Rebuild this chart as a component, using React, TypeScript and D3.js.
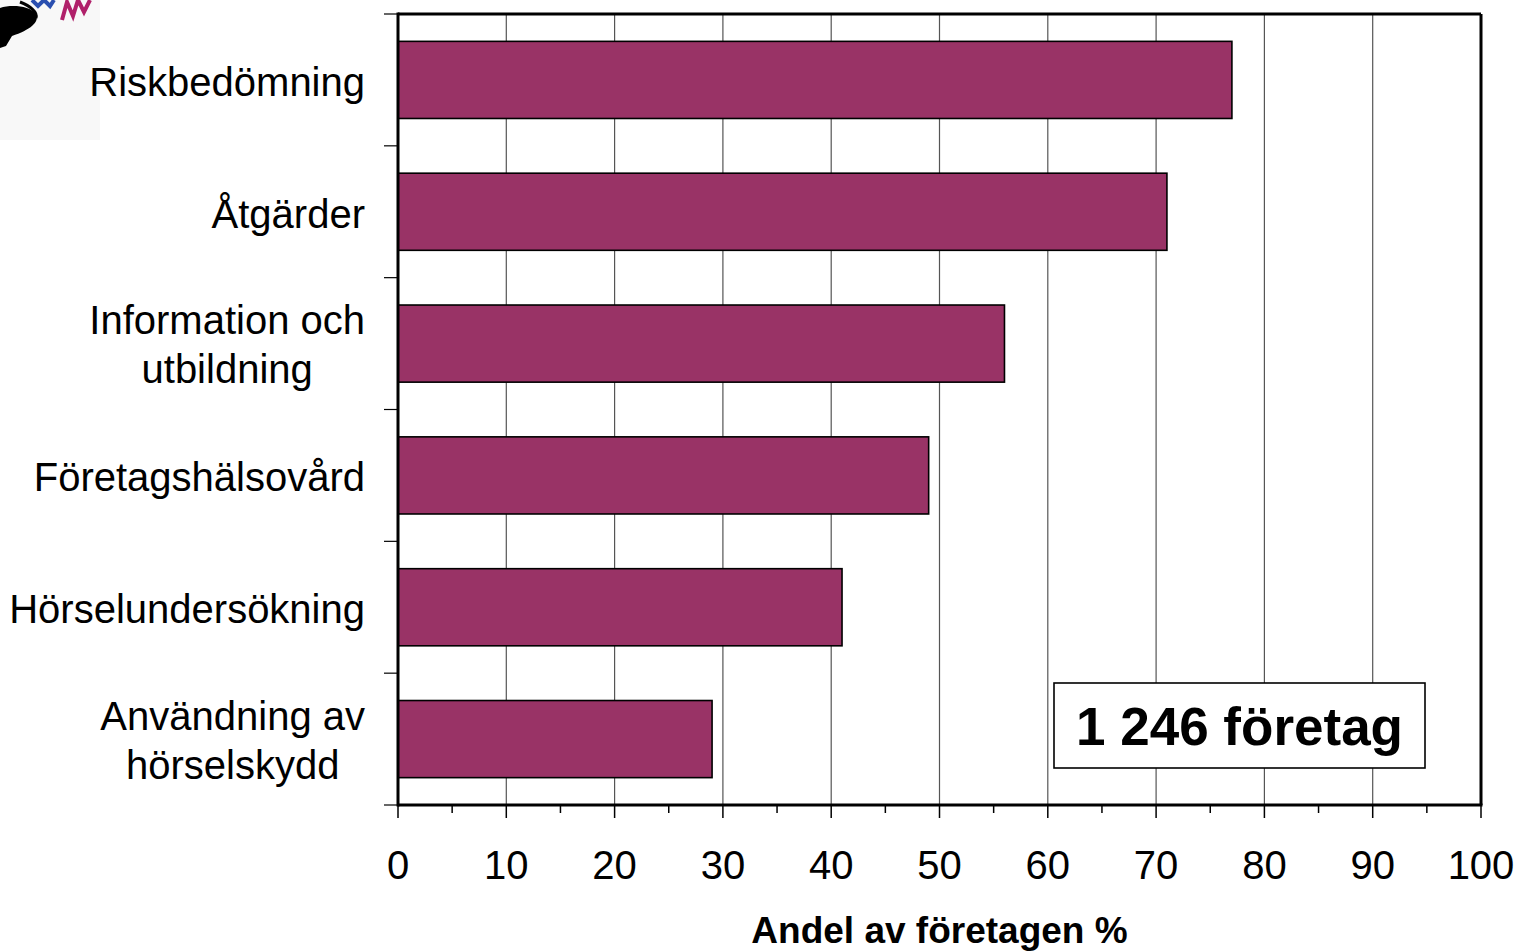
import * as React from 'react';
import * as d3 from 'd3';

const dimensions = { width: 1519, height: 952 };
const margin = { top: 14, left: 398, right: 38, bottom: 147 };

// categories top to bottom, "|" marks a line break
const categories = [
  'Riskbedömning',
  'Åtgärder',
  'Information och|utbildning',
  'Företagshälsovård',
  'Hörselundersökning',
  'Användning av|hörselskydd',
];
const values = [77, 71, 56, 49, 41, 29];
const xTicks = [0, 10, 20, 30, 40, 50, 60, 70, 80, 90, 100];
const axisTitle = 'Andel av företagen %';
const note = '1 246 företag';

const font = '"Liberation Sans", Arial, sans-serif';
const labelSize = 40;

let ctx: CanvasRenderingContext2D | null = null;
const measure = (s: string) => {
  if (!ctx) ctx = document.createElement('canvas').getContext('2d');
  if (!ctx) return s.length * 20;
  ctx.font = `${labelSize}px ${font}`;
  return ctx.measureText(s).width;
};

const App: React.FC = () => {
  React.useEffect(() => {
    document.body.style.margin = '0';
  }, []);

  const x0 = margin.left;
  const x1 = dimensions.width - margin.right;
  const y0 = margin.top;
  const y1 = dimensions.height - margin.bottom;

  const x = d3.scaleLinear([0, 100], [x0, x1]);
  const y = d3
    .scaleBand(categories, [y0, y1])
    .paddingInner(0.415)
    .paddingOuter(0.2075);
  const step = y.step();
  const minor = d3.range(5, 100, 10);
  const bounds = d3.range(categories.length + 1).map((i) => y0 + i * step);
  const labelRight = 365;

  return (
    <svg
      width={dimensions.width}
      height={dimensions.height}
      viewBox={`0 0 ${dimensions.width} ${dimensions.height}`}
      style={{ display: 'block', background: '#fff' }}
      fontFamily={font}
    >
      {/* logo fragment */}
      <rect x={0} y={0} width={100} height={140} fill="#f8f8f8" />
      <g>
        <path d="M0,8 C12,4 30,6 36,14 C40,22 30,30 12,36 L6,46 L0,48 Z" fill="#000" />
        <path d="M20,2 C30,6 38,12 36,18" fill="none" stroke="#000" strokeWidth={3} />
        <path d="M32,0 L38,6 L44,0 L50,6 L54,0" fill="none" stroke="#2a4fb0" strokeWidth={4} />
        <path d="M62,20 L67,2 L73,16 L78,0 L84,12 L90,0" fill="none" stroke="#b0206a" strokeWidth={4} />
      </g>

      {/* grid lines */}
      {xTicks.slice(1, -1).map((t) => (
        <line key={t} x1={x(t)} x2={x(t)} y1={y0} y2={y1} stroke="#555" strokeWidth={1.2} />
      ))}

      {/* bars */}
      {categories.map((c, i) => (
        <rect
          key={c}
          x={x(0)}
          y={y(c)}
          width={x(values[i]) - x(0)}
          height={y.bandwidth()}
          fill="#993366"
          stroke="#000"
          strokeWidth={1.6}
        />
      ))}

      {/* frame */}
      <line x1={x0} x2={x1} y1={y0} y2={y0} stroke="#000" strokeWidth={3} />
      <line x1={x1} x2={x1} y1={y0} y2={y1} stroke="#000" strokeWidth={3} />
      <line x1={x0} x2={x0} y1={y0 - 1.5} y2={y1 + 1.5} stroke="#000" strokeWidth={3} />
      <line x1={x0} x2={x1 + 1.5} y1={y1} y2={y1} stroke="#000" strokeWidth={3} />

      {/* category ticks */}
      {bounds.map((b, i) => (
        <line key={i} x1={x0 - 14} x2={x0} y1={b} y2={b} stroke="#000" strokeWidth={1.2} />
      ))}

      {/* x ticks */}
      {xTicks.map((t) => (
        <line key={t} x1={x(t)} x2={x(t)} y1={y1} y2={y1 + 13} stroke="#000" strokeWidth={1.5} />
      ))}
      {minor.map((t) => (
        <line key={t} x1={x(t)} x2={x(t)} y1={y1} y2={y1 + 8} stroke="#000" strokeWidth={1.5} />
      ))}
      {xTicks.map((t) => (
        <text key={t} x={x(t)} y={879} fontSize={40} textAnchor="middle" fill="#000">
          {t}
        </text>
      ))}

      {/* category labels */}
      {categories.map((c) => {
        const lines = c.split('|');
        const cy = (y(c) ?? 0) + y.bandwidth() / 2;
        if (lines.length === 1) {
          return (
            <text key={c} x={labelRight} y={cy + 16} fontSize={labelSize} textAnchor="end" fill="#000">
              {c}
            </text>
          );
        }
        // multi-line labels: centred inside a right-aligned block
        const w = Math.max(...lines.map(measure));
        const cx = labelRight - w / 2;
        return (
          <text key={c} fontSize={labelSize} textAnchor="middle" fill="#000">
            {lines.map((l, j) => (
              <tspan key={j} x={cx} y={cy + 15 + (j - 0.5) * 49}>
                {l}
              </tspan>
            ))}
          </text>
        );
      })}

      {/* axis title */}
      <text x={(x0 + x1) / 2} y={943} fontSize={37} fontWeight="bold" textAnchor="middle" fill="#000">
        {axisTitle}
      </text>

      {/* annotation */}
      <rect x={1054} y={683} width={371} height={85} fill="#fff" stroke="#000" strokeWidth={1.6} />
      <text x={1239.5} y={745} fontSize={53} fontWeight="bold" textAnchor="middle" fill="#000">
        {note}
      </text>
    </svg>
  );
};

export default App;
